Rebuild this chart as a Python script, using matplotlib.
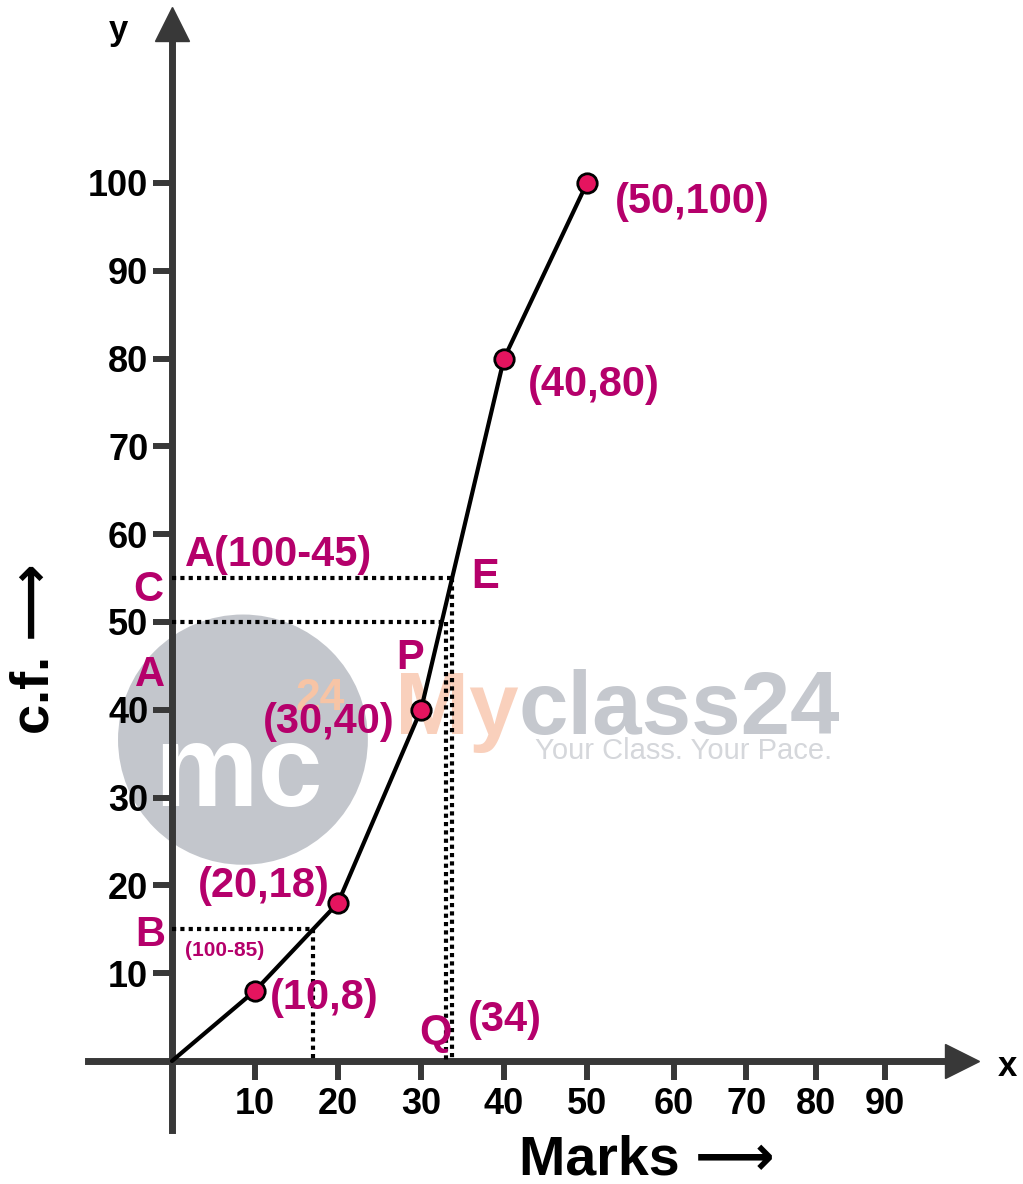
import numpy as np
import matplotlib
matplotlib.use('Agg')
import matplotlib.pyplot as plt
from matplotlib.patches import Ellipse

# ogive data (less than type)
marks = [0, 10, 20, 30, 40, 50]
cf = [0, 8, 18, 40, 80, 100]
point_labels = ['(10,8)', '(20,18)', '(30,40)', '(40,80)', '(50,100)']

y_ticks = [10, 20, 30, 40, 50, 60, 70, 80, 90, 100]
x_tick_labels = ['10', '20', '30', '40', '50', '60', '70', '80', '90']

total = 100
median_cf = 50            # A
upper_cf = total - 45     # C  A(100-45)
lower_cf = total - 85     # B  (100-85)
q_label = '(34)'

MAG = '#B5006B'
AXC = '#383838'

plt.rcParams['font.family'] = ['Liberation Sans', 'DejaVu Sans']
plt.rcParams['font.weight'] = 'bold'

fig = plt.figure(figsize=(10.23, 11.84), dpi=100)
ax = fig.add_axes([0, 0, 1, 1])
ax.set_xlim(-20.72, 102.53)
ax.set_ylim(-14.01, 120.84)

# axes through origin with arrows
for s in ['top', 'right']:
    ax.spines[s].set_visible(False)
ax.spines['left'].set_position(('data', 0))
ax.spines['bottom'].set_position(('data', 0))
ax.spines['left'].set_bounds(-7.9, 116.5)
ax.spines['bottom'].set_bounds(-10.1, 93.5)
for s in ['left', 'bottom']:
    ax.spines[s].set_linewidth(5)
    ax.spines[s].set_color(AXC)
    ax.spines[s].set_zorder(1)
ax.plot(0, 118.1, marker='^', ms=24, color=AXC, clip_on=False, zorder=1)
ax.plot(95.2, 0, marker='>', ms=24, color=AXC, clip_on=False, zorder=1)

ax.set_yticks(y_ticks)
ax.set_yticklabels([str(v) for v in y_ticks])
# the last x ticks sit a bit closer together in the source drawing
ax.set_xticks([10, 20, 30, 40, 50, 60.5, 69.2, 77.6, 85.9])
ax.set_xticklabels(x_tick_labels)
ax.tick_params(axis='both', direction='out', length=14, width=4.3, color=AXC,
               labelsize=26)
ax.tick_params(axis='y', pad=3)
ax.tick_params(axis='x', pad=5)
for lab in ax.get_xticklabels() + ax.get_yticklabels():
    lab.set_fontweight('bold')

ax.text(-6.5, 117.4, 'y', fontsize=25, ha='center', va='center')
ax.text(100.7, -0.6, 'x', fontsize=25, ha='center', va='center')
ax.text(-16.6, 47.0, 'c.f. \u27f6', fontsize=39, rotation=90, ha='center', va='center')
ax.text(57.2, -11.3, 'Marks \u27f6', fontsize=40, ha='center', va='center')

# watermark
ax.add_patch(Ellipse((8.55, 36.6), 30.1, 28.5, color='#C3C6CC', zorder=0.5, lw=0))
ax.text(8.0, 32.5, 'mc', fontsize=84, color='white', ha='center', va='center', zorder=0.6)
ax.text(17.8, 41.3, '24', fontsize=32, color='#F7C4A5', ha='center', va='center', zorder=0.6)
my = ax.text(26.9, 37.2, 'My', fontsize=64, color='#F9D0BC', ha='left', va='baseline', zorder=0.6)
ax.annotate('class24', xy=(1, 0), xycoords=my, fontsize=64, color='#C5C8CE',
            ha='left', va='bottom', zorder=0.6)
ax.text(61.6, 35.3, 'Your Class. Your Pace.', fontsize=21, fontweight='normal',
        color='#D5D7DB', ha='center', va='center', zorder=0.6)

# guide lines
x_c = np.interp(upper_cf, cf, marks)
x_a = np.interp(median_cf, cf, marks)
x_b = np.interp(lower_cf, cf, marks)
dot = dict(color='black', lw=3, linestyle=(0, (1, 1)), zorder=2)
ax.plot([0, x_c], [upper_cf, upper_cf], **dot)
ax.plot([x_c, x_c], [upper_cf, 0], **dot)
ax.plot([0, x_a], [median_cf, median_cf], **dot)
ax.plot([x_a + 0.5, x_a + 0.5], [median_cf, 0], **dot)
ax.plot([0, x_b], [lower_cf, lower_cf], **dot)
ax.plot([x_b, x_b], [lower_cf, 0], **dot)

# ogive
ax.plot(marks, cf, color='black', lw=3, zorder=3, solid_capstyle='round')
ax.plot(marks[1:], cf[1:], 'o', ms=14, mfc='#E5145F', mec='black', mew=2, zorder=4)

offsets = [(11, -5, 'left'), (-6, 12, 'right'), (-19, -9, 'right'),
           (17, -19, 'left'), (20, -14, 'left')]
for x, y, lab, (dx, dy, ha) in zip(marks[1:], cf[1:], point_labels, offsets):
    ax.annotate(lab, (x, y), xytext=(dx, dy), textcoords='offset points',
                fontsize=30, color=MAG, ha=ha, va='center', zorder=5)

lab = dict(fontsize=30, color=MAG, va='center', zorder=5)
ax.text(1.6, 57.6, 'A(100-45)', ha='left', **lab)
ax.text(-2.9, 53.6, 'C', ha='center', **lab)
ax.text(-2.65, 44.0, 'A', ha='center', **lab)
ax.text(-2.65, 14.4, 'B', ha='center', **lab)
ax.text(1.6, 12.6, '(100-85)', ha='left', fontsize=15, color=MAG, va='center', zorder=5)
ax.text(37.7, 55.1, 'E', ha='center', **lab)
ax.text(28.7, 45.9, 'P', ha='center', **lab)
ax.text(31.7, 3.2, 'Q', ha='center', **lab)
ax.text(35.7, 4.7, q_label, ha='left', **lab)

fig.savefig('out.png', dpi=100)
